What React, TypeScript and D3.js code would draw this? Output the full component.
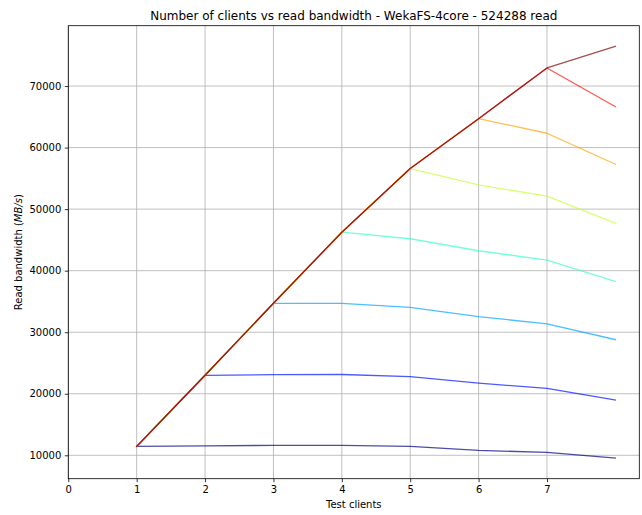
import React, { useRef, useEffect } from 'react'
import * as d3 from 'd3'

// number of test clients
const clients = [1, 2, 3, 4, 5, 6, 7, 8]

// read bandwidth (MB/s), one series per curve
const series1 = [11445, 11540, 11610, 11610, 11450, 10800, 10470, 9545]
const series2 = [11445, 23000, 23100, 23130, 22800, 21720, 20860, 18970]
const series3 = [11445, 23000, 34700, 34700, 34050, 32540, 31350, 28800]
const series4 = [11445, 23000, 34700, 46250, 45190, 43240, 41730, 38270]
const series5 = [11445, 23000, 34700, 46250, 56600, 53940, 52100, 47730]
const series6 = [11445, 23000, 34700, 46250, 56600, 64700, 62330, 57300]
const series7 = [11445, 23000, 34700, 46250, 56600, 64700, 72940, 66640]
const series8 = [11445, 23000, 34700, 46250, 56600, 64700, 72940, 76460]

const allSeries = [series1, series2, series3, series4, series5, series6, series7, series8]

const xTicks = [0, 1, 2, 3, 4, 5, 6, 7]
const yTicks = [10000, 20000, 30000, 40000, 50000, 60000, 70000]

const title = 'Number of clients vs read bandwidth - WekaFS-4core - 524288 read'

const W = 642
const H = 515
const margin = { top: 25.7, right: 2.7, bottom: 36.3, left: 68.3 }

// matplotlib's jet colormap
const jet = (t: number) => {
  const clip = (v: number) => Math.max(0, Math.min(1, v))
  const r = clip(Math.min(4 * t - 1.5, -4 * t + 4.5))
  const g = clip(Math.min(4 * t - 0.5, -4 * t + 3.5))
  const b = clip(Math.min(4 * t + 0.5, -4 * t + 2.5))
  return d3.rgb(r * 255, g * 255, b * 255).formatHex()
}

const App = () => {
  const svgRef = useRef<SVGSVGElement>(null)

  useEffect(() => {
    const svg = d3.select(svgRef.current)
    svg.selectAll('*').remove()

    const iw = W - margin.left - margin.right
    const ih = H - margin.top - margin.bottom

    const xMax = d3.max(clients)!
    const xMin = d3.min(clients)!
    const xScale = d3.scaleLinear()
      .domain([0, xMax + (xMax - xMin) * 0.05])
      .range([0, iw])

    const lo = d3.min(allSeries, s => d3.min(s))!
    const hi = d3.max(allSeries, s => d3.max(s))!
    const pad = (hi - lo) * 0.05
    const yScale = d3.scaleLinear()
      .domain([lo - pad, hi + pad])
      .range([ih, 0])

    const g = svg.append('g').attr('transform', `translate(${margin.left},${margin.top})`)

    // grid
    g.selectAll('.vgrid')
      .data(xTicks)
      .join('line')
      .attr('class', 'vgrid')
      .attr('x1', d => xScale(d)).attr('x2', d => xScale(d))
      .attr('y1', 0).attr('y2', ih)
      .attr('stroke', '#b0b0b0').attr('stroke-width', 0.8)
    g.selectAll('.hgrid')
      .data(yTicks)
      .join('line')
      .attr('class', 'hgrid')
      .attr('x1', 0).attr('x2', iw)
      .attr('y1', d => yScale(d)).attr('y2', d => yScale(d))
      .attr('stroke', '#b0b0b0').attr('stroke-width', 0.8)

    // lines
    const line = d3.line<number>()
      .x((d, i) => xScale(clients[i]))
      .y(d => yScale(d))

    g.selectAll('.series')
      .data(allSeries)
      .join('path')
      .attr('class', 'series')
      .attr('d', d => line(d))
      .attr('fill', 'none')
      .attr('stroke', (d, i) => jet(i / (allSeries.length - 1)))
      .attr('stroke-opacity', 0.7)
      .attr('stroke-width', 1.3)
      .attr('stroke-linejoin', 'round')
      .attr('stroke-linecap', 'square')

    // axes
    const xAxis = d3.axisBottom(xScale).tickValues(xTicks).tickFormat(d3.format('d')).tickSize(3.5).tickPadding(3.5)
    const yAxis = d3.axisLeft(yScale).tickValues(yTicks).tickFormat(d3.format('d')).tickSize(3.5).tickPadding(3.5)

    const ax = g.append('g').attr('transform', `translate(0,${ih})`).call(xAxis)
    const ay = g.append('g').call(yAxis)
    ;[ax, ay].forEach(a => {
      a.select('.domain').remove()
      a.selectAll('line').attr('stroke', '#000').attr('stroke-width', 0.8)
      a.selectAll('text')
        .attr('fill', '#000')
        .style('font-family', 'DejaVu Sans')
        .style('font-size', '10px')
    })

    // frame
    g.append('rect')
      .attr('width', iw).attr('height', ih)
      .attr('fill', 'none').attr('stroke', '#000').attr('stroke-width', 0.8)

    // labels
    svg.append('text')
      .attr('x', margin.left + iw / 2).attr('y', 20)
      .attr('text-anchor', 'middle')
      .style('font-family', 'DejaVu Sans').style('font-size', '12px')
      .text(title)

    svg.append('text')
      .attr('x', margin.left + iw / 2).attr('y', 508)
      .attr('text-anchor', 'middle')
      .style('font-family', 'DejaVu Sans').style('font-size', '10px')
      .text('Test clients')

    const yl = svg.append('text')
      .attr('transform', `translate(22,${margin.top + ih / 2}) rotate(-90)`)
      .attr('text-anchor', 'middle')
      .style('font-family', 'DejaVu Sans').style('font-size', '10px')
    yl.append('tspan').text('Read bandwidth (')
    yl.append('tspan').style('font-style', 'italic').text('MB/s')
    yl.append('tspan').text(')')
  }, [])

  return (
    <div style={{ position: 'absolute', left: 0, top: 0 }}>
      <svg ref={svgRef} width={W} height={H} style={{ display: 'block', background: 'white' }}></svg>
    </div>
  )
}

export default App
